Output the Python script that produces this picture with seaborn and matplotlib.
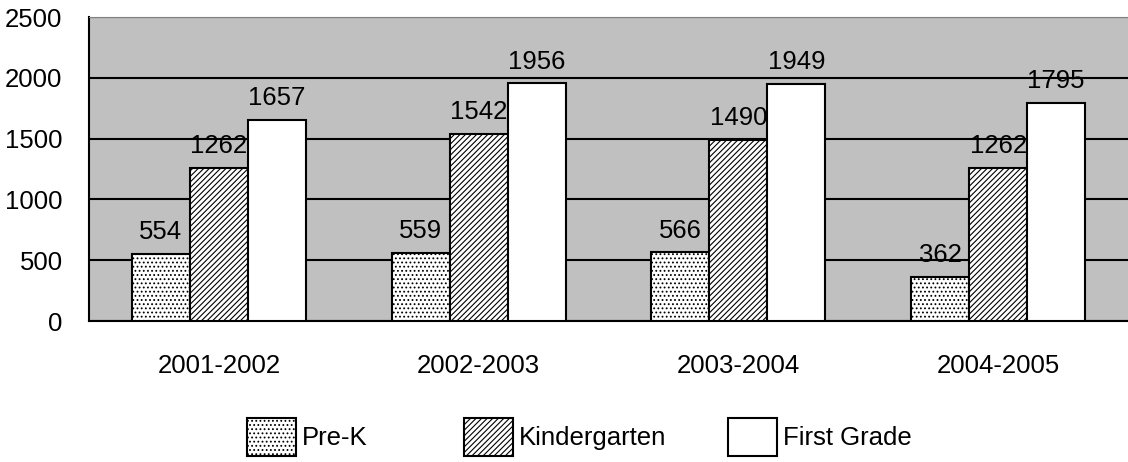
import pandas as pd
import matplotlib.pyplot as plt
import seaborn as sns
from matplotlib.patches import Patch

years = ["2001-2002", "2002-2003", "2003-2004", "2004-2005"]
grades = ["Pre-K", "Kindergarten", "First Grade"]
pre_k = [554, 559, 566, 362]
kindergarten = [1262, 1542, 1490, 1262]
first_grade = [1657, 1956, 1949, 1795]
y_ticks = [0, 500, 1000, 1500, 2000, 2500]

hatches = ["....", "//////", ""]

df = pd.DataFrame({
    "year": years * 3,
    "grade": [g for g in grades for _ in years],
    "count": pre_k + kindergarten + first_grade,
})

sns.set_style("white")
plt.rcParams["font.family"] = ["Liberation Sans", "DejaVu Sans"]
plt.rcParams["text.color"] = "black"
plt.rcParams["xtick.color"] = "black"
plt.rcParams["ytick.color"] = "black"
plt.rcParams["hatch.linewidth"] = 0.8
fs = 18.5

fig = plt.figure(figsize=(11.28, 4.62), dpi=100)
ax = fig.add_axes([0.0789, 0.305, 0.9211, 0.658])
ax.set_facecolor("#C0C0C0")

sns.barplot(data=df, x="year", y="count", hue="grade", hue_order=grades,
            palette=["white"] * 3, width=0.67, gap=0, edgecolor="black",
            linewidth=1.5, saturation=1, legend=False, ax=ax, zorder=3)

for cont, h in zip(ax.containers, hatches):
    for bar in cont:
        bar.set_hatch(h)
    ax.bar_label(cont, padding=7, fontsize=fs, color="black")

ax.set_ylim(0, 2500)
ax.set_xlim(-0.5, 3.5)
ax.set_yticks(y_ticks)
ax.yaxis.grid(True, color="black", linewidth=1.5, zorder=0)
ax.set_axisbelow(True)
ax.tick_params(axis="both", length=0, labelsize=fs, labelcolor="black")
ax.tick_params(axis="x", pad=24)
ax.tick_params(axis="y", pad=19)
ax.set_xlabel("")
ax.set_ylabel("")
for s in ["left", "bottom"]:
    ax.spines[s].set_color("black")
    ax.spines[s].set_linewidth(1.5)
ax.spines["right"].set_visible(False)
ax.spines["top"].set_color("#808080")

# one legend entry per box so the uneven spacing can be kept
legend_x = [247 / 1128, 464 / 1128, 728 / 1128]
for g, h, lx in zip(grades, hatches, legend_x):
    patch = Patch(facecolor="white", edgecolor="black", linewidth=1.5, hatch=h, label=g)
    fig.legend(handles=[patch], loc="center left", bbox_to_anchor=(lx, 0.054),
               frameon=False, fontsize=fs, handlelength=1.9, handleheight=1.85,
               handletextpad=0.23, borderpad=0, borderaxespad=0)

fig.savefig("out.png", dpi=100)
